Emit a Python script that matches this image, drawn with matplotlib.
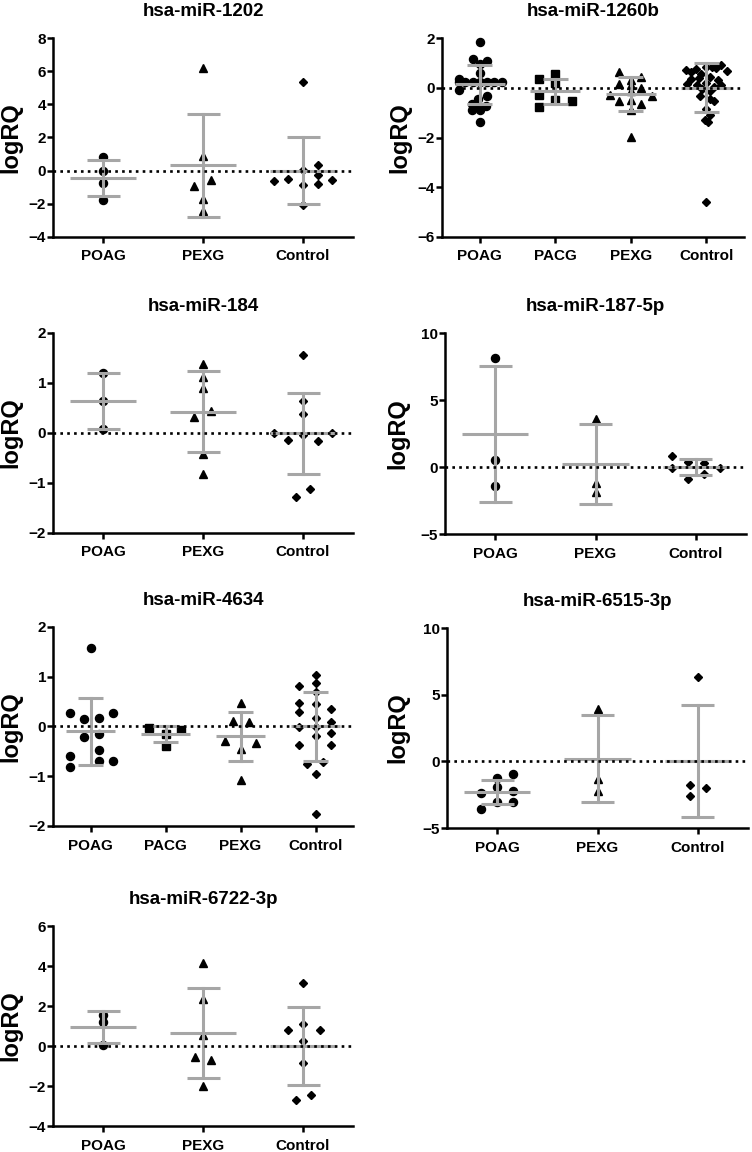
import numpy as np
import matplotlib
matplotlib.use('Agg')
import matplotlib.pyplot as plt

plt.rcParams['font.family'] = ['Liberation Sans', 'DejaVu Sans']
plt.rcParams['font.weight'] = 'bold'

# ---------------- data (logRQ) ----------------
# hsa-miR-1202
m1202_groups = ['POAG', 'PEXG', 'Control']
m1202_poag = [0.82, -0.04, -0.74, -1.75]
m1202_pexg = [6.19, 0.9, -0.9, -0.54, -1.69, -2.45]
m1202_ctrl = [5.37, -0.64, -0.52, 0.06, -0.88, -2.1, 0.32, -0.28, -0.78, -0.58]
m1202_poag_dx = [0, 0, 0, 0]
m1202_pexg_dx = [0, 0, -0.09, 0.08, 0, 0]
m1202_ctrl_dx = [0, -0.29, -0.15, 0, 0, 0, 0.15, 0.15, 0.15, 0.29]
m1202_mean = [-0.44, 0.32, 0.0]
m1202_sd = [1.06, 3.1, 2.0]

# hsa-miR-1260b
m1260b_groups = ['POAG', 'PACG', 'PEXG', 'Control']
m1260b_poag = [1.84, 1.15, 1.09, 0.95, 0.6, 0.35,
               0.23, 0.23, 0.23, 0.22, 0.23, 0.23, 0.23,
               -0.08, -0.35, -0.45, -0.65, -0.68, -0.72, -0.88, -0.91, -1.39]
m1260b_poag_dx = [0, -0.09, 0.09, 0, 0, -0.27,
                  -0.28, -0.19, -0.09, 0, 0.1, 0.19, 0.29,
                  -0.28, 0.1, -0.02, -0.1, -0.05, 0.08, 0, -0.1, 0]
m1260b_pacg = [0.36, 0.56, 0.19, -0.28, -0.48, -0.55, -0.79]
m1260b_pacg_dx = [-0.21, 0, 0, -0.21, 0, 0.22, -0.21]
m1260b_pexg = [0.62, 0.32, 0.42, 0.15, 0.12, 0.01, -0.12, -0.29, -0.32,
               -0.52, -0.48, -0.64, -0.88, -1.96]
m1260b_pexg_dx = [-0.15, 0, 0.14, -0.15, 0, 0.14, 0, -0.28, 0.28,
                  -0.15, 0, 0.14, 0, 0]
m1260b_ctrl = [0.72, 0.62, 0.75, 0.55, 0.82, 0.85, 0.78, 0.92, 0.68,
               0.35, 0.4, 0.45, 0.3, 0.15, 0.1, 0.2, 0.05, 0.1,
               -0.05, -0.15, -0.35, -0.45, -0.55, -0.85, -1.1, -1.3, -1.38, -4.6]
m1260b_ctrl_dx = [-0.27, -0.2, -0.13, -0.07, 0, 0.07, 0.13, 0.2, 0.27,
                  -0.2, -0.1, 0.05, 0.15, -0.25, -0.12, 0, 0.1, 0.2,
                  -0.05, 0.05, -0.08, 0.05, 0.1, 0, 0.05, -0.02, 0.02, 0]
m1260b_mean = [0.14, -0.15, -0.25, 0.01]
m1260b_sd = [0.79, 0.5, 0.68, 1.0]

# hsa-miR-184
m184_groups = ['POAG', 'PEXG', 'Control']
m184_poag = [1.2, 0.65, 0.09]
m184_poag_dx = [0, 0, 0]
m184_pexg = [1.38, 1.12, 0.9, 0.33, 0.45, -0.41, -0.82]
m184_pexg_dx = [0, 0, 0, -0.09, 0.08, 0, 0]
m184_ctrl = [1.57, 0.65, 0.38, 0.0, -0.14, -0.03, -0.15, 0.01, -1.12, -1.28]
m184_ctrl_dx = [0, 0, 0, -0.29, -0.15, 0, 0.15, 0.29, 0.07, -0.07]
m184_mean = [0.64, 0.43, 0.0]
m184_sd = [0.555, 0.805, 0.81]

# hsa-miR-187-5p
m187_groups = ['POAG', 'PEXG', 'Control']
m187_poag = [8.15, 0.5, -1.4]
m187_poag_dx = [0, 0, 0]
m187_pexg = [3.56, -1.22, -1.84]
m187_pexg_dx = [0, 0, 0]
m187_ctrl = [0.85, -0.05, 0.37, -0.9, 0.27, -0.55, -0.05]
m187_ctrl_dx = [-0.24, -0.24, -0.08, -0.08, 0.08, 0.08, 0.24]
m187_mean = [2.44, 0.2, 0.0]
m187_sd = [5.07, 2.99, 0.58]

# hsa-miR-4634
m4634_groups = ['POAG', 'PACG', 'PEXG', 'Control']
m4634_poag = [1.58, 0.28, 0.15, 0.18, 0.28, -0.22, -0.15, -0.6, -0.82, -0.48, -0.69, -0.69]
m4634_poag_dx = [0, -0.27, -0.09, 0.11, 0.3, -0.09, 0.11, -0.27, -0.27, 0.11, 0.11, 0.3]
m4634_pacg = [-0.03, -0.15, -0.07, -0.4]
m4634_pacg_dx = [-0.22, 0, 0.21, 0]
m4634_pexg = [0.48, 0.12, 0.1, -0.3, -0.46, -0.34, -1.08]
m4634_pexg_dx = [0, -0.1, 0.11, -0.21, 0, 0.21, 0]
m4634_ctrl = [1.04, 0.87, 0.81, 0.69, 0.47, 0.46, 0.3, 0.36, 0.17, 0.1,
              -0.01, -0.01, -0.13, -0.2, -0.37, -0.37, -0.75, -0.72, -0.95, -1.76]
m4634_ctrl_dx = [0, 0, -0.22, 0, -0.22, 0, -0.22, 0.21, 0, 0.21,
                 -0.22, 0, 0.21, 0, -0.22, 0.21, -0.11, 0.1, 0, 0]
m4634_mean = [-0.1, -0.16, -0.2, 0.0]
m4634_sd = [0.665, 0.16, 0.495, 0.69]

# hsa-miR-6515-3p
m6515_groups = ['POAG', 'PEXG', 'Control']
m6515_poag = [-2.38, -3.58, -1.25, -1.93, -3.05, -0.93, -2.2, -3.05]
m6515_poag_dx = [-0.16, -0.16, 0, 0, 0, 0.16, 0.16, 0.16]
m6515_pexg = [3.93, -1.3, -2.2]
m6515_pexg_dx = [0, 0, 0]
m6515_ctrl = [6.33, -1.75, -2.58, -2.0]
m6515_ctrl_dx = [0, -0.08, -0.08, 0.08]
m6515_mean = [-2.29, 0.21, 0.0]
m6515_sd = [0.91, 3.29, 4.2]

# hsa-miR-6722-3p
m6722_groups = ['POAG', 'PEXG', 'Control']
m6722_poag = [1.57, 1.2, 0.05]
m6722_poag_dx = [0, 0, 0]
m6722_pexg = [4.17, 2.37, 0.57, -0.55, -0.72, -2.0]
m6722_pexg_dx = [0, 0, 0, -0.08, 0.08, 0]
m6722_ctrl = [3.15, 0.82, 1.12, 0.82, 0.23, -0.83, -2.72, -2.47]
m6722_ctrl_dx = [0, -0.15, 0, 0.17, 0, 0, -0.07, 0.08]
m6722_mean = [0.95, 0.67, 0.02]
m6722_sd = [0.78, 2.25, 1.95]

panels = [
    ('hsa-miR-1202', m1202_groups, [m1202_poag, m1202_pexg, m1202_ctrl],
     [m1202_poag_dx, m1202_pexg_dx, m1202_ctrl_dx], m1202_mean, m1202_sd,
     (-4, 8), np.arange(-4, 9, 2)),
    ('hsa-miR-1260b', m1260b_groups, [m1260b_poag, m1260b_pacg, m1260b_pexg, m1260b_ctrl],
     [m1260b_poag_dx, m1260b_pacg_dx, m1260b_pexg_dx, m1260b_ctrl_dx], m1260b_mean, m1260b_sd,
     (-6, 2), np.arange(-6, 3, 2)),
    ('hsa-miR-184', m184_groups, [m184_poag, m184_pexg, m184_ctrl],
     [m184_poag_dx, m184_pexg_dx, m184_ctrl_dx], m184_mean, m184_sd,
     (-2, 2), np.arange(-2, 3, 1)),
    ('hsa-miR-187-5p', m187_groups, [m187_poag, m187_pexg, m187_ctrl],
     [m187_poag_dx, m187_pexg_dx, m187_ctrl_dx], m187_mean, m187_sd,
     (-5, 10), np.arange(-5, 11, 5)),
    ('hsa-miR-4634', m4634_groups, [m4634_poag, m4634_pacg, m4634_pexg, m4634_ctrl],
     [m4634_poag_dx, m4634_pacg_dx, m4634_pexg_dx, m4634_ctrl_dx], m4634_mean, m4634_sd,
     (-2, 2), np.arange(-2, 3, 1)),
    ('hsa-miR-6515-3p', m6515_groups, [m6515_poag, m6515_pexg, m6515_ctrl],
     [m6515_poag_dx, m6515_pexg_dx, m6515_ctrl_dx], m6515_mean, m6515_sd,
     (-5, 10), np.arange(-5, 11, 5)),
    ('hsa-miR-6722-3p', m6722_groups, [m6722_poag, m6722_pexg, m6722_ctrl],
     [m6722_poag_dx, m6722_pexg_dx, m6722_ctrl_dx], m6722_mean, m6722_sd,
     (-4, 6), np.arange(-4, 7, 2)),
]

# axes boxes in pixels: left, right, top, bottom
W, H = 752, 1152
boxes = [(53, 353, 38, 237), (442, 744, 38, 237),
         (53, 353, 333, 533), (445, 746, 333, 534),
         (53, 353, 627, 826), (447, 748, 628, 828),
         (53, 353, 926, 1126)]
ylab_x = [-0.103, -0.103, -0.103, -0.12, -0.103, -0.126, -0.103]

markers = {'POAG': ('o', 5.8), 'PACG': ('s', 5.8), 'PEXG': ('^', 6.3), 'Control': ('D', 4.4)}
grey = '#a6a6a6'

fig = plt.figure(figsize=(W / 100, H / 100), dpi=100)

for k, (title, groups, vals, dxs, means, sds, ylim, yticks) in enumerate(panels):
    l, r, t, b = boxes[k]
    ax = fig.add_axes([l / W, 1 - b / H, (r - l) / W, (b - t) / H])
    for i, g in enumerate(groups):
        m, ms = markers[g]
        x = i + np.array(dxs[i])
        ax.plot(x, vals[i], ls='none', marker=m, ms=ms, color='black', zorder=2, clip_on=False)
        # mean and SD bars
        ax.plot([i - 0.33, i + 0.33], [means[i]] * 2, color=grey, lw=2.2, zorder=3, solid_capstyle='butt')
        ax.plot([i, i], [means[i] - sds[i], means[i] + sds[i]], color=grey, lw=2.2, zorder=3)
        for s in (-1, 1):
            ax.plot([i - 0.165, i + 0.165], [means[i] + s * sds[i]] * 2, color=grey, lw=2.2,
                    zorder=3, solid_capstyle='butt')
    ax.axhline(0, color='black', lw=1.9, ls=(0, (1, 1.6)), zorder=4)
    n = len(groups)
    ax.set_xlim(-0.5, n - 0.5)
    ax.set_ylim(*ylim)
    ax.set_yticks(yticks)
    ax.set_xticks(range(n))
    ax.set_xticklabels(groups, fontsize=11, fontweight='bold')
    ax.tick_params(axis='y', labelsize=11, length=4, width=1.8, pad=1)
    ax.tick_params(axis='x', length=4, width=1.8, pad=5)
    for sp in ('top', 'right'):
        ax.spines[sp].set_visible(False)
    for sp in ('left', 'bottom'):
        ax.spines[sp].set_linewidth(1.8)
    ax.set_ylabel('logRQ', fontsize=17, fontweight='bold')
    ax.yaxis.set_label_coords(ylab_x[k], 0.5)
    ax.set_title(title, fontsize=13.5, fontweight='bold', pad=16)

plt.savefig('out.png', dpi=100)
